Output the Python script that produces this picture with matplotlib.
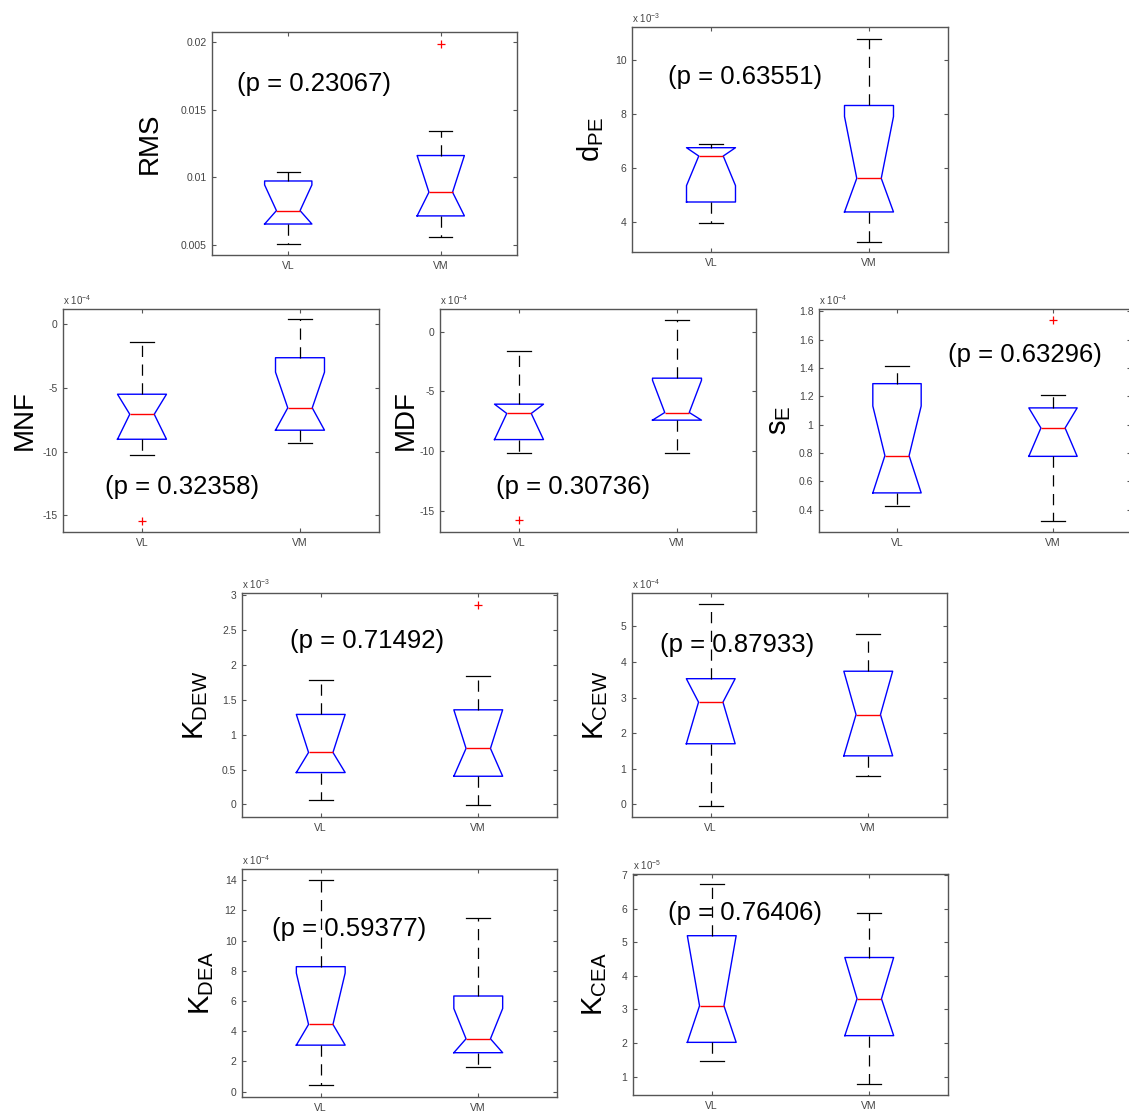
"""
plot.py — 3x3-ish grid of notched boxplots (VL vs VM) in the old MATLAB style.
"""

import matplotlib
matplotlib.use('Agg')
import matplotlib.pyplot as plt
import matplotlib.ticker as mtick

plt.rcParams.update({
    'font.family': 'Liberation Sans',
    'mathtext.default': 'regular',
    'figure.dpi': 100,
})

W, H = 1129, 1115
GROUPS = ["VL", "VM"]
GRAY = "#555555"

# ── Data (values in the units shown on each axis, i.e. already x 10^exp) ──
# each stat list: [whislo, q1, med, q3, whishi]
rms_vl  = [0.00507, 0.00655, 0.00754, 0.00973, 0.01042]
rms_vm  = [0.00560, 0.00715, 0.00890, 0.01161, 0.01339]
rms_out = [[], [0.01988]]

dpe_vl  = [3.96, 4.73, 6.44, 6.75, 6.89]
dpe_vm  = [3.24, 4.36, 5.61, 8.32, 10.80]
dpe_out = [[], []]

mnf_vl  = [-10.24, -9.03, -7.07, -5.50, -1.44]
mnf_vm  = [-9.32, -8.32, -6.57, -2.64, 0.37]
mnf_out = [[-15.4], []]

mdf_vl  = [-10.17, -9.05, -6.86, -6.08, -1.60]
mdf_vm  = [-10.17, -7.42, -6.78, -3.90, 0.98]
mdf_out = [[-15.8], []]

se_vl   = [0.428, 0.518, 0.781, 1.289, 1.412]
se_vm   = [0.322, 0.776, 0.976, 1.118, 1.207]
se_out  = [[], [1.736]]

kdew_vl  = [0.058, 0.457, 0.745, 1.290, 1.788]
kdew_vm  = [-0.005, 0.404, 0.803, 1.356, 1.837]
kdew_out = [[], [2.865]]

kcew_vl  = [-0.06, 1.70, 2.87, 3.53, 5.63]
kcew_vm  = [0.79, 1.36, 2.52, 3.74, 4.78]
kcew_out = [[], []]

kdea_vl  = [0.46, 3.08, 4.45, 8.27, 14.0]
kdea_vm  = [1.63, 2.58, 3.50, 6.33, 11.52]
kdea_out = [[], []]

kcea_vl  = [1.47, 2.02, 3.11, 5.20, 6.74]
kcea_vm  = [0.77, 2.22, 3.32, 4.55, 5.89]
kcea_out = [[], []]

# notch half-extent (approx.) around the median, clipped to the box
notch_half = {
    "rms": [0.0019, 0.0030], "dpe": [1.1, 2.3], "mnf": [2.0, 2.8],
    "mdf": [2.2, 2.7], "se": [0.35, 0.20], "kdew": [0.55, 0.60],
    "kcew": [1.2, 1.3], "kdea": [3.4, 2.0], "kcea": [2.1, 1.3],
}

p_values = {
    "rms": 0.23067, "dpe": 0.63551, "mnf": 0.32358, "mdf": 0.30736,
    "se": 0.63296, "kdew": 0.71492, "kcew": 0.87933, "kdea": 0.59377,
    "kcea": 0.76406,
}

# ── Panel layout: pixel box (left, right, top, bottom), ylim, ticks, etc ──
panels = [
    dict(key="rms", vl=rms_vl, vm=rms_vm, out=rms_out, label="RMS", exp=None,
         box=(212, 517, 32, 255), ylim=(0.00426, 0.02074),
         ticks=[0.005, 0.01, 0.015, 0.02], ptxt=(0.082, 0.767), lab=-0.162),
    dict(key="dpe", vl=dpe_vl, vm=dpe_vm, out=dpe_out, label="$d_{PE}$", exp=-3,
         box=(632, 948, 27, 252), ylim=(2.87, 11.24),
         ticks=[4, 6, 8, 10], ptxt=(0.114, 0.778), lab=-0.083),
    dict(key="mnf", vl=mnf_vl, vm=mnf_vm, out=mnf_out, label="MNF", exp=-4,
         box=(63, 379, 309, 532), ylim=(-16.3, 1.18),
         ticks=[-15, -10, -5, 0], ptxt=(0.133, 0.202), lab=-0.079),
    dict(key="mdf", vl=mdf_vl, vm=mdf_vm, out=mdf_out, label="MDF", exp=-4,
         box=(440, 756, 309, 532), ylim=(-16.8, 1.9),
         ticks=[-15, -10, -5, 0], ptxt=(0.177, 0.202), lab=-0.066),
    dict(key="se", vl=se_vl, vm=se_vm, out=se_out, label="$s_{E}$", exp=-4,
         box=(819, 1131, 309, 532), ylim=(0.242, 1.816),
         ticks=[0.4, 0.6, 0.8, 1.0, 1.2, 1.4, 1.6, 1.8], ptxt=(0.413, 0.794), lab=-0.083),
    dict(key="kdew", vl=kdew_vl, vm=kdew_vm, out=kdew_out, label="$K_{DEW}$", exp=-3,
         box=(242, 557, 593, 817), ylim=(-0.18, 3.03),
         ticks=[0, 0.5, 1, 1.5, 2, 2.5, 3], ptxt=(0.152, 0.786), lab=-0.102),
    dict(key="kcew", vl=kcew_vl, vm=kcew_vm, out=kcew_out, label="$K_{CEW}$", exp=-4,
         box=(632, 947, 593, 817), ylim=(-0.36, 5.94),
         ticks=[0, 1, 2, 3, 4, 5], ptxt=(0.089, 0.768), lab=-0.07),
    dict(key="kdea", vl=kdea_vl, vm=kdea_vm, out=kdea_out, label="$K_{DEA}$", exp=-4,
         box=(242, 557, 869, 1097), ylim=(-0.35, 14.73),
         ticks=[0, 2, 4, 6, 8, 10, 12, 14], ptxt=(0.095, 0.737), lab=-0.082),
    dict(key="kcea", vl=kcea_vl, vm=kcea_vm, out=kcea_out, label="$K_{CEA}$", exp=-5,
         box=(633, 948, 874, 1095), ylim=(0.45, 7.04),
         ticks=[1, 2, 3, 4, 5, 6, 7], ptxt=(0.111, 0.824), lab=-0.076),
]


def make_stats(vals, fliers, half):
    lo, q1, med, q3, hi = vals
    return dict(whislo=lo, q1=q1, med=med, q3=q3, whishi=hi,
                cilo=max(q1, med - half), cihi=min(q3, med + half),
                fliers=fliers, label="")


fig = plt.figure(figsize=(W / 100, H / 100))

for p in panels:
    l, r, t, b = p["box"]
    ax = fig.add_axes([l / W, 1 - b / H, (r - l) / W, (b - t) / H])

    stats = [make_stats(p["vl"], p["out"][0], notch_half[p["key"]][0]),
             make_stats(p["vm"], p["out"][1], notch_half[p["key"]][1])]
    ax.bxp(stats, positions=[1, 2], widths=0.31, capwidths=0.15,
           shownotches=True, manage_ticks=False,
           boxprops=dict(color="#0000ff", linewidth=1.0),
           medianprops=dict(color="#ff0000", linewidth=1.0),
           whiskerprops=dict(color="black", linewidth=0.9, linestyle=(0, (9, 6))),
           capprops=dict(color="black", linewidth=0.9),
           flierprops=dict(marker="+", markeredgecolor="#ff0000",
                           markersize=6, markeredgewidth=0.9, linestyle="none"))

    ax.set_xlim(0.5, 2.5)
    ax.set_ylim(*p["ylim"])
    ax.set_xticks([1, 2])
    ax.set_xticklabels(GROUPS)
    ax.set_yticks(p["ticks"])
    ax.yaxis.set_major_formatter(mtick.FuncFormatter(lambda v, pos: f"{v:g}"))
    ax.tick_params(direction="in", length=3, width=0.8, color=GRAY,
                   labelsize=7.5, labelcolor="#444444", pad=4,
                   top=True, right=True)
    for s in ax.spines.values():
        s.set_color(GRAY)
        s.set_linewidth(1.0)

    ax.set_ylabel(p["label"], fontsize=20 if "_" not in p["label"] else 21)
    ax.yaxis.set_label_coords(p["lab"], 0.5)

    if p["exp"] is not None:
        ax.text(0.0, 1.01, f"x 10$^{{{p['exp']}}}$", transform=ax.transAxes,
                fontsize=7, color="#444444", ha="left", va="bottom")

    ax.text(p["ptxt"][0], p["ptxt"][1], f"(p = {p_values[p['key']]:.5f})",
            transform=ax.transAxes, fontsize=18.5, ha="left", va="center")

fig.savefig("out.png", dpi=100)
